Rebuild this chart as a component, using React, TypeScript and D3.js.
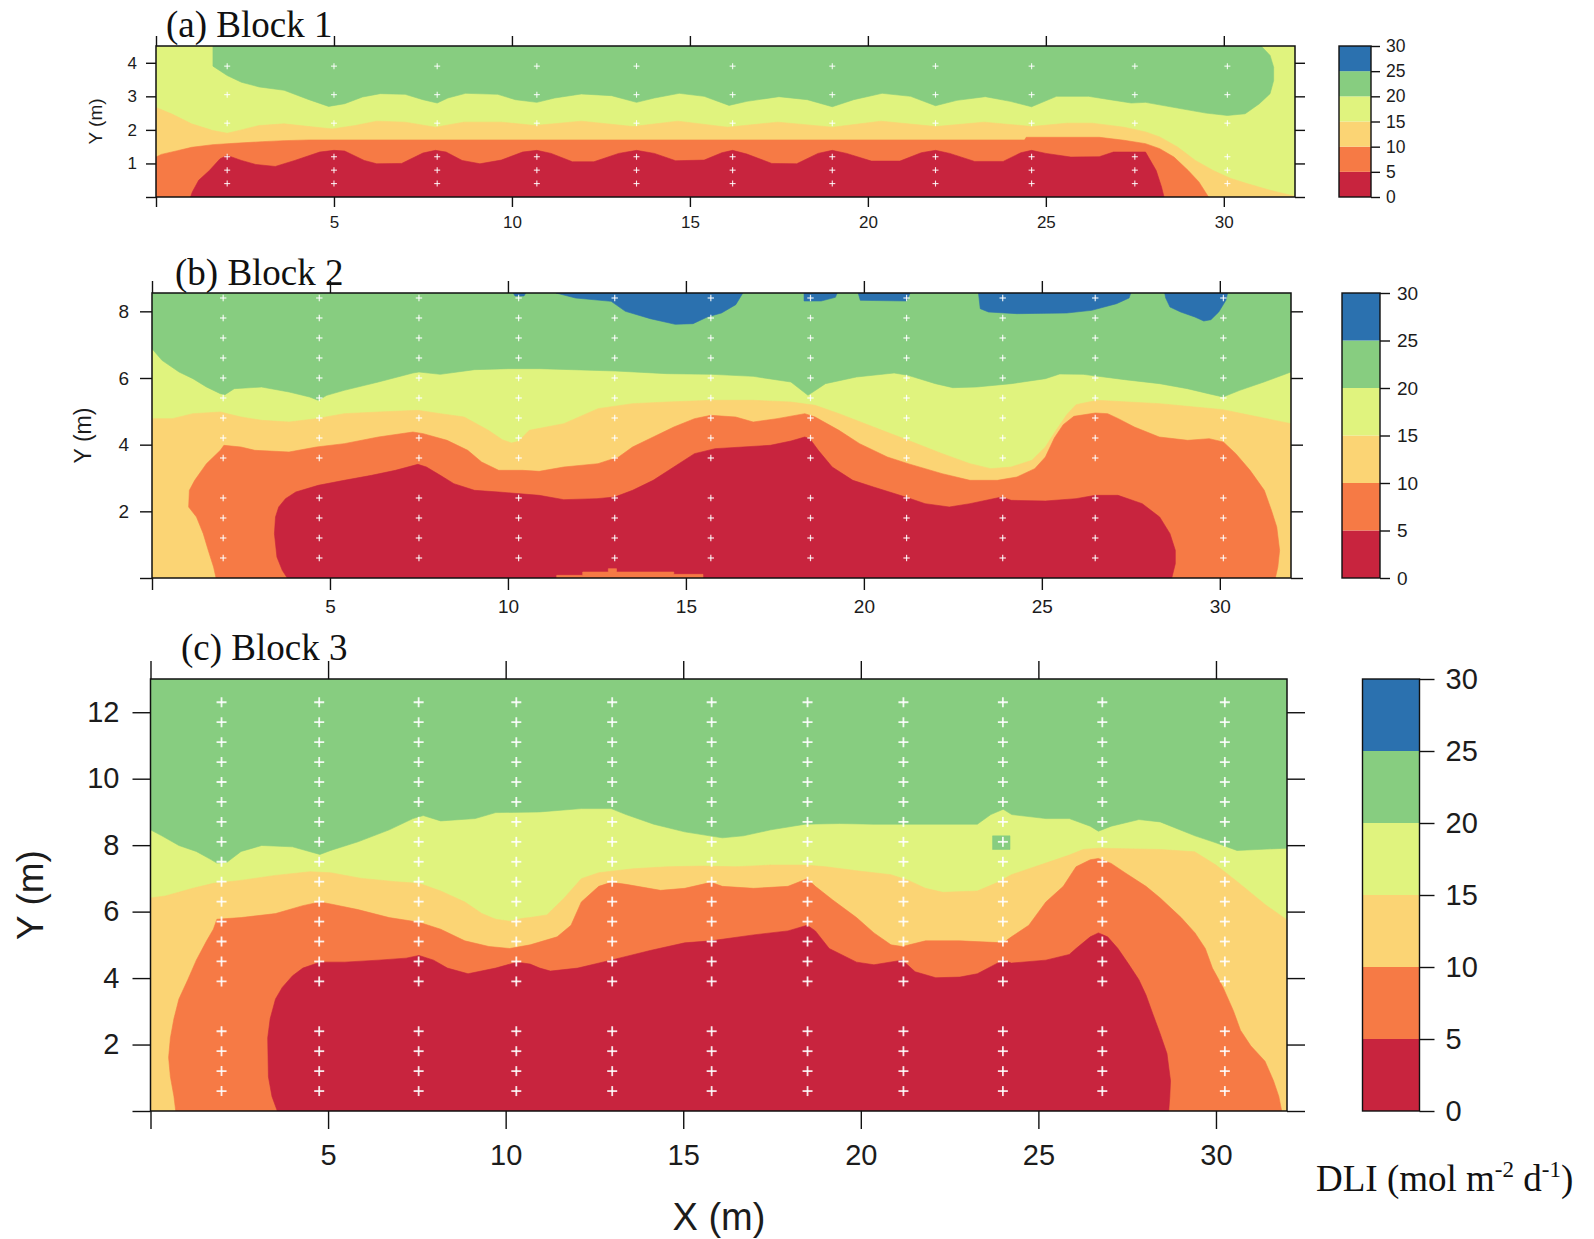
import React, { useEffect, useRef } from "react";
import * as d3 from "d3";

// ---------- shared scales / legend ----------
const BAND_BREAKS = [0, 5, 10, 15, 20, 25, 30];
const BAND_COLORS = ["#C8243E", "#F67A45", "#FBD474", "#E0F37E", "#87CD80", "#2B71AF"];
const X_TICKS = [0, 5, 10, 15, 20, 25, 30];
const X_DOMAIN = [0, 32];

// ---------- Block 1 ----------
const A_Y_TICKS = [0, 1, 2, 3, 4];
const A_SAMPLE_X = [2.0, 5.0, 7.9, 10.7, 13.5, 16.2, 19.0, 21.9, 24.6, 27.5, 30.1];
const A_SAMPLE_Y = [0.4, 0.8, 1.2, 2.2, 3.05, 3.9];
const A_GREEN = [[1.6,4.5],[1.6,3.9],[2.0,3.62],[2.4,3.42],[2.9,3.28],[3.6,3.18],[4.3,2.9],[4.85,2.7],[5.3,2.78],[5.8,2.98],[6.3,3.08],[7.0,3.06],[7.5,2.9],[7.9,2.8],[8.2,2.95],[8.7,3.09],[9.6,3.06],[10.1,2.9],[10.7,2.82],[11.2,2.95],[11.95,3.07],[12.8,3.02],[13.5,2.82],[14.0,2.95],[14.7,3.09],[15.4,3.0],[16.1,2.73],[16.6,2.85],[17.5,2.99],[18.3,2.9],[19.0,2.69],[19.6,2.9],[20.4,3.09],[21.2,3.0],[21.9,2.72],[22.5,2.88],[23.3,2.99],[24.0,2.85],[24.6,2.69],[25.3,3.0],[26.2,3.0],[26.8,2.9],[27.4,2.8],[27.8,2.82],[28.7,2.65],[29.5,2.5],[30.1,2.43],[30.6,2.48],[31.0,2.78],[31.3,3.08],[31.4,3.47],[31.4,3.87],[31.3,4.22],[31.05,4.5]];
const A_LIGHT_ORANGE = [[0,2.67],[0.45,2.47],[1.0,2.18],[1.6,1.98],[2.0,1.9],[2.4,2.0],[2.9,2.13],[3.6,2.18],[4.3,2.1],[4.95,2.03],[5.6,2.13],[6.2,2.26],[7.0,2.23],[7.85,2.08],[8.65,2.23],[9.7,2.23],[10.65,2.13],[11.95,2.26],[13.4,2.1],[14.66,2.26],[16.06,2.08],[17.47,2.23],[19.01,2.08],[20.37,2.26],[21.91,2.1],[23.26,2.23],[24.6,2.1],[25.6,2.2],[26.3,2.2],[27.2,2.08],[27.8,1.94],[28.2,1.79],[28.7,1.49],[29.2,1.09],[29.7,0.79],[30.2,0.55],[30.65,0.4],[31.3,0.2],[32,0.02]];
const A_ORANGE = [[0,1.19],[0.15,1.27],[0.6,1.38],[1.0,1.48],[1.6,1.56],[2.2,1.6],[3.0,1.65],[3.6,1.68],[4.3,1.7],[24.4,1.7],[24.45,1.78],[26.5,1.78],[27.2,1.69],[27.8,1.59],[28.2,1.44],[28.6,1.19],[29.0,0.79],[29.3,0.45],[29.57,0]];
const A_RED = [[0.97,0],[1.02,0.15],[1.2,0.5],[1.5,0.79],[1.8,1.14],[2.0,1.24],[2.4,1.09],[2.8,0.97],[3.35,0.91],[3.9,1.09],[4.6,1.34],[5.0,1.39],[5.3,1.37],[5.85,1.09],[6.2,0.99],[6.9,1.0],[7.5,1.31],[7.85,1.39],[8.15,1.34],[8.6,1.09],[9.1,0.99],[9.7,1.1],[10.3,1.34],[10.7,1.39],[11.1,1.3],[11.7,1.05],[12.3,1.05],[13.0,1.3],[13.5,1.39],[14.0,1.3],[14.6,1.08],[15.4,1.1],[15.9,1.32],[16.2,1.39],[16.6,1.28],[17.3,1.0],[18.0,0.99],[18.6,1.3],[19.0,1.39],[19.4,1.3],[20.1,1.07],[20.9,1.07],[21.5,1.32],[21.9,1.39],[22.3,1.3],[23.0,1.06],[23.8,1.06],[24.3,1.32],[24.6,1.39],[25.0,1.3],[25.7,1.19],[26.5,1.2],[26.9,1.34],[27.8,1.34],[28.1,0.79],[28.25,0.3],[28.32,0]];

// ---------- Block 2 ----------
const B_Y_TICKS = [0, 2, 4, 6, 8];
const B_SAMPLE_X = [2.0, 4.7, 7.5, 10.3, 13.0, 15.7, 18.5, 21.2, 23.9, 26.5, 30.1];
const B_SAMPLE_Y = [0.6, 1.2, 1.8, 2.4, 3.6, 4.2, 4.8, 5.4, 6.0, 6.6, 7.2, 7.8, 8.4];
const B_GREEN = [[0,6.88],[0.28,6.53],[0.76,6.18],[1.15,5.98],[1.53,5.73],[1.92,5.53],[2.05,5.5],[2.31,5.68],[3.08,5.73],[3.85,5.58],[4.43,5.43],[4.67,5.33],[4.91,5.48],[5.4,5.63],[6.36,5.88],[7.33,6.15],[7.5,6.18],[8.1,6.11],[9.06,6.25],[10.03,6.28],[10.88,6.28],[13.02,6.21],[14.47,6.13],[15.73,6.11],[16.89,6.05],[17.95,5.88],[18.43,5.48],[18.92,5.83],[19.79,6.03],[20.85,6.15],[21.24,6.08],[22.01,5.83],[22.5,5.71],[23.17,5.73],[24.14,5.83],[25.1,5.98],[25.5,6.12],[26.16,6.11],[27.33,5.95],[28.31,5.83],[29.09,5.68],[29.68,5.53],[30.09,5.43],[30.56,5.63],[31.24,5.88],[32,6.18]];
const B_BLUE_1 = [[11.35,8.55],[11.9,8.4],[12.9,8.3],[13.3,8.0],[14.0,7.78],[14.7,7.61],[15.2,7.63],[15.6,7.83],[16.0,7.95],[16.4,8.2],[16.6,8.55]];
const B_BLUE_2 = [[18.32,8.55],[18.32,8.31],[18.8,8.31],[19.2,8.42],[19.25,8.55]];
const B_BLUE_3 = [[19.84,8.55],[19.9,8.33],[21.2,8.31],[21.3,8.55]];
const B_BLUE_4 = [[23.22,8.55],[23.27,8.08],[23.5,7.98],[24.3,7.93],[25.7,7.95],[26.4,8.03],[27.1,8.23],[27.45,8.4],[27.5,8.55]];
const B_BLUE_5 = [[28.45,8.55],[28.48,8.4],[28.6,8.13],[28.9,7.98],[29.3,7.83],[29.55,7.71],[29.75,7.75],[29.97,7.98],[30.17,8.33],[30.22,8.55]];
const B_BLUE_6 = [[10.15,8.55],[10.2,8.46],[10.45,8.46],[10.5,8.55]];
const B_LIGHT_ORANGE = [[0,4.78],[0.57,4.78],[1.15,4.93],[1.92,4.98],[2.5,4.83],[3.08,4.73],[3.85,4.68],[4.62,4.78],[5.4,4.93],[6.36,4.98],[7.47,5.03],[8.1,4.93],[8.77,4.83],[9.45,4.43],[9.84,4.15],[10.1,4.05],[10.3,4.1],[10.6,4.43],[11.57,4.63],[12.53,5.08],[13.5,5.23],[14.47,5.28],[15.73,5.33],[16.89,5.33],[17.95,5.28],[18.63,5.18],[19.3,4.93],[20.27,4.53],[21.24,4.13],[22.2,3.73],[22.98,3.43],[23.56,3.28],[24.14,3.33],[24.72,3.53],[25.1,3.93],[25.4,4.43],[25.7,4.9],[25.96,5.2],[26.55,5.33],[28.31,5.23],[29.29,5.13],[30.09,5.05],[30.85,4.88],[32,4.63]];
const B_ORANGE = [[1.8,0],[1.73,0.33],[1.58,0.83],[1.44,1.33],[1.25,1.83],[1.03,2.13],[1.05,2.63],[1.2,2.93],[1.53,3.43],[1.92,3.83],[2.02,3.98],[2.5,3.93],[2.89,3.83],[3.85,3.78],[4.62,3.93],[5.4,4.03],[6.36,4.23],[7.33,4.38],[7.62,4.33],[8.29,4.13],[8.87,3.83],[9.26,3.48],[9.74,3.23],[10.41,3.23],[10.88,3.2],[11.57,3.33],[12.53,3.43],[13.11,3.63],[13.5,3.93],[14.08,4.23],[14.66,4.53],[15.24,4.78],[15.7,4.88],[16.4,4.83],[16.89,4.68],[17.56,4.78],[18.34,4.93],[18.63,4.83],[19.3,4.43],[19.88,4.03],[20.66,3.63],[21.24,3.43],[22.2,3.13],[22.98,2.93],[23.75,2.93],[24.3,3.03],[24.8,3.28],[25.1,3.63],[25.35,4.2],[25.6,4.6],[25.9,4.85],[26.5,4.95],[26.85,4.93],[27.15,4.78],[27.6,4.53],[28.3,4.23],[29.1,4.13],[29.7,4.18],[30.1,4.08],[30.45,3.73],[30.85,3.23],[31.25,2.63],[31.45,2.03],[31.6,1.53],[31.68,0.83],[31.63,0.33],[31.56,0]];
const B_RED = [[3.8,0],[3.66,0.23],[3.51,0.63],[3.44,1.33],[3.47,1.83],[3.56,2.13],[3.75,2.38],[4.04,2.58],[4.67,2.78],[5.4,2.93],[6.17,3.08],[6.84,3.23],[7.47,3.41],[7.71,3.33],[8.1,3.08],[8.48,2.83],[9.06,2.63],[9.74,2.58],[10.88,2.48],[11.57,2.35],[12.5,2.38],[13.0,2.43],[13.5,2.63],[14.08,2.93],[14.66,3.33],[15.24,3.73],[15.82,3.88],[16.6,3.93],[17.37,3.98],[17.95,4.11],[18.34,4.23],[18.48,4.18],[18.72,3.83],[19.11,3.33],[19.69,2.93],[20.27,2.73],[21.17,2.43],[21.72,2.23],[22.4,2.13],[22.98,2.23],[23.87,2.43],[24.14,2.33],[25.1,2.31],[25.96,2.38],[26.5,2.48],[27.14,2.48],[27.82,2.23],[28.31,1.83],[28.6,1.33],[28.75,0.83],[28.75,0.43],[28.65,0]];
const B_ORANGE_SPOT = [[11.37,0],[11.37,0.08],[12.1,0.08],[12.1,0.18],[12.82,0.18],[12.82,0.28],[13.05,0.28],[13.05,0.18],[14.66,0.18],[14.66,0.11],[15.48,0.11],[15.48,0]];

// ---------- Block 3 ----------
const C_Y_TICKS = [0, 2, 4, 6, 8, 10, 12];
const C_SAMPLE_X = [2.0, 4.75, 7.55, 10.3, 13.0, 15.8, 18.5, 21.2, 24.0, 26.8, 30.25];
const C_SAMPLE_Y = [0.6, 1.2, 1.8, 2.4, 3.9, 4.5, 5.1, 5.7, 6.3, 6.9, 7.5, 8.1, 8.7, 9.3, 9.9, 10.5, 11.1, 11.7, 12.3];
const C_GREEN = [[0,8.46],[0.32,8.28],[0.8,7.99],[1.29,7.81],[1.68,7.58],[1.87,7.46],[2.16,7.49],[2.55,7.81],[3.13,7.99],[4.0,7.95],[4.77,7.72],[5.07,7.84],[5.84,8.1],[6.72,8.46],[7.39,8.8],[7.68,8.89],[8.17,8.73],[9.14,8.8],[9.72,8.98],[10.96,9.0],[12.13,9.1],[12.97,9.1],[13.39,8.92],[14.17,8.63],[15.04,8.4],[16.1,8.22],[16.69,8.28],[17.46,8.46],[18.43,8.63],[19.4,8.65],[20.37,8.63],[21.34,8.63],[23.28,8.63],[23.66,8.92],[24.01,9.08],[24.25,8.92],[25.21,8.8],[25.87,8.8],[26.46,8.57],[26.69,8.42],[27.05,8.57],[27.83,8.77],[28.43,8.7],[29.41,8.28],[30.0,8.07],[30.59,7.84],[32,7.91]];
const C_GREEN_SPOT = [[23.71,7.87],[23.71,8.28],[24.2,8.28],[24.2,7.87]];
const C_LIGHT_ORANGE = [[0,6.41],[0.42,6.47],[1.19,6.7],[1.77,6.85],[2.55,6.94],[3.52,7.09],[4.49,7.2],[5.07,7.17],[5.94,7.0],[6.91,6.9],[7.56,6.85],[8.17,6.62],[8.85,6.29],[9.33,5.94],[9.72,5.77],[10.11,5.71],[10.49,5.8],[10.68,5.82],[11.16,5.9],[11.65,6.41],[12.13,6.99],[12.62,7.17],[13.59,7.29],[14.55,7.35],[15.52,7.37],[16.49,7.35],[17.46,7.4],[18.43,7.4],[19.01,7.35],[19.88,7.23],[20.85,7.11],[21.34,6.94],[21.82,6.7],[22.31,6.58],[23.28,6.62],[23.86,6.88],[24.24,7.11],[25.21,7.46],[25.87,7.7],[26.26,7.87],[26.69,7.91],[28.43,7.87],[29.4,7.8],[30.0,7.4],[30.6,6.9],[31.4,6.2],[32,5.75]];
const C_ORANGE = [[0.71,0],[0.66,0.44],[0.56,1.03],[0.51,1.61],[0.56,2.2],[0.66,2.78],[0.8,3.37],[1.05,3.95],[1.29,4.54],[1.58,5.12],[1.77,5.47],[1.87,5.77],[2.55,5.82],[3.52,5.94],[4.29,6.18],[4.77,6.29],[5.07,6.23],[5.84,6.06],[6.72,5.82],[7.56,5.68],[8.17,5.47],[8.85,5.12],[9.53,4.95],[10.11,4.89],[10.69,5.0],[11.45,5.24],[11.84,5.59],[12.13,6.29],[12.62,6.76],[12.97,6.88],[13.39,6.82],[14.36,6.64],[15.04,6.7],[15.78,6.88],[16.1,6.76],[16.98,6.7],[17.95,6.76],[18.49,6.99],[18.72,6.76],[19.21,6.35],[19.88,5.82],[20.37,5.36],[20.85,5.0],[21.17,4.95],[21.82,5.12],[22.79,5.12],[24.01,5.06],[24.24,5.24],[24.73,5.59],[25.21,6.29],[25.7,6.76],[26.06,7.35],[26.46,7.56],[26.69,7.6],[27.05,7.45],[27.44,7.17],[28.03,6.76],[28.43,6.41],[29.02,5.82],[29.41,5.36],[29.7,4.89],[29.9,4.3],[30.2,3.72],[30.49,3.02],[30.69,2.43],[30.98,1.96],[31.38,1.5],[31.62,0.91],[31.77,0.44],[31.85,0]];
const C_RED = [[3.57,0],[3.42,0.44],[3.32,1.03],[3.3,2.2],[3.37,2.78],[3.52,3.37],[3.71,3.72],[4.0,4.07],[4.29,4.3],[4.77,4.48],[5.46,4.48],[6.42,4.54],[7.2,4.6],[7.56,4.68],[7.97,4.54],[8.36,4.3],[8.94,4.13],[9.72,4.3],[10.32,4.48],[10.69,4.42],[10.96,4.3],[11.26,4.21],[12.03,4.3],[12.97,4.54],[14.07,4.83],[15.04,5.06],[15.78,5.12],[16.98,5.3],[17.95,5.42],[18.49,5.59],[18.72,5.42],[19.11,4.89],[19.88,4.48],[20.37,4.4],[21.17,4.54],[21.53,4.19],[22.11,4.01],[22.79,4.03],[23.28,4.13],[24.01,4.54],[24.24,4.45],[25.21,4.54],[25.87,4.71],[26.06,4.89],[26.46,5.24],[26.69,5.36],[26.95,5.24],[27.24,4.89],[27.54,4.42],[27.83,3.95],[28.03,3.49],[28.23,2.9],[28.43,2.32],[28.62,1.73],[28.72,0.91],[28.7,0.44],[28.67,0]];

const SANS = "'Liberation Sans', Arial, Helvetica, sans-serif";
const SERIF = "'Liberation Serif', 'Times New Roman', Times, serif";

type Pt = number[];
type Layer = { band: number; pts: Pt[]; close: "top" | "bottom" | "none" };

function Axis({ scale, orient, ticks, size, padding, fontSize, labels, transform }: any) {
  const ref = useRef<SVGGElement>(null);
  useEffect(() => {
    const gen =
      orient === "bottom" ? d3.axisBottom(scale) :
      orient === "top" ? d3.axisTop(scale) :
      orient === "left" ? d3.axisLeft(scale) : d3.axisRight(scale);
    gen.tickValues(ticks).tickSize(size).tickPadding(padding).tickSizeOuter(0)
      .tickFormat((d: any) => (labels === "all" ? String(d) : labels === "nozero" && d !== 0 ? String(d) : ""));
    const g = d3.select(ref.current as SVGGElement);
    g.call(gen as any);
    g.attr("font-size", null).attr("font-family", null);
    g.select(".domain").remove();
    g.selectAll(".tick line").attr("stroke", "#111").attr("stroke-width", 1.4);
    g.selectAll(".tick text").attr("fill", "#1c1c1c").style("font-family", SANS).style("font-size", fontSize + "px");
  });
  return <g ref={ref} transform={transform} />;
}

function Panel(p: any) {
  const x = d3.scaleLinear().domain(X_DOMAIN).range([p.left, p.right]);
  const y = d3.scaleLinear().domain([0, p.ymax]).range([p.bottom, p.top]);
  const line = d3.line<Pt>().x((d) => x(d[0])).y((d) => y(d[1])).curve(d3.curveLinearClosed);
  const closed = (l: Layer) => {
    const pts = l.pts.slice();
    const f = pts[0], t = pts[pts.length - 1];
    if (l.close === "top") { pts.push([t[0], p.ymax], [f[0], p.ymax]); }
    if (l.close === "bottom") { pts.push([t[0], 0], [f[0], 0]); }
    return line(pts) as string;
  };
  const cb = d3.scaleLinear().domain([0, 30]).range([p.bottom, p.top]);
  const clipId = "clip-" + p.id;
  const samples: Pt[] = [];
  p.sx.forEach((sx: number) => p.sy.forEach((sy: number) => samples.push([sx, sy])));
  const h = p.plus;
  return (
    <g>
      <defs>
        <clipPath id={clipId}>
          <rect x={p.left} y={p.top} width={p.right - p.left} height={p.bottom - p.top} />
        </clipPath>
      </defs>
      <g clipPath={`url(#${clipId})`}>
        <rect x={p.left} y={p.top} width={p.right - p.left} height={p.bottom - p.top} fill={BAND_COLORS[3]} />
        {p.layers.map((l: Layer, i: number) => (
          <path key={i} d={closed(l)} fill={BAND_COLORS[l.band]} stroke={BAND_COLORS[l.band]} strokeWidth={0.6} />
        ))}
        {samples.map((s, i) => (
          <g key={i} stroke="#ffffff" strokeOpacity={0.88} strokeWidth={p.plusW}>
            <line x1={x(s[0]) - h} x2={x(s[0]) + h} y1={y(s[1])} y2={y(s[1])} />
            <line x1={x(s[0])} x2={x(s[0])} y1={y(s[1]) - h} y2={y(s[1]) + h} />
          </g>
        ))}
      </g>
      <rect x={p.left} y={p.top} width={p.right - p.left} height={p.bottom - p.top} fill="none" stroke="#111" strokeWidth={1.5} />
      <Axis scale={x} orient="bottom" ticks={X_TICKS} size={p.tick} padding={p.xpad} fontSize={p.font} labels="nozero" transform={`translate(0,${p.bottom})`} />
      <Axis scale={x} orient="top" ticks={X_TICKS} size={p.tick} padding={3} fontSize={p.font} labels="none" transform={`translate(0,${p.top})`} />
      <Axis scale={y} orient="left" ticks={p.yticks} size={p.tick} padding={p.ypad} fontSize={p.font} labels="nozero" transform={`translate(${p.left},0)`} />
      <Axis scale={y} orient="right" ticks={p.yticks} size={p.tick} padding={3} fontSize={p.font} labels="none" transform={`translate(${p.right},0)`} />
      {BAND_COLORS.map((c, i) => (
        <rect key={i} x={p.cbx} width={p.cbw} y={cb(BAND_BREAKS[i + 1])} height={cb(BAND_BREAKS[i]) - cb(BAND_BREAKS[i + 1])} fill={c} />
      ))}
      <rect x={p.cbx} width={p.cbw} y={p.top} height={p.bottom - p.top} fill="none" stroke="#111" strokeWidth={1.4} />
      <Axis scale={cb} orient="right" ticks={BAND_BREAKS} size={p.cbtick} padding={p.cbpad} fontSize={p.cbfont} labels="all" transform={`translate(${p.cbx + p.cbw},0)`} />
      <text x={p.titleX} y={p.titleY} fontFamily={SERIF} fontSize={p.titleSize} fill="#111">{p.title}</text>
      <text transform={`translate(${p.ylabX},${(p.top + p.bottom) / 2}) rotate(-90)`} textAnchor="middle" dominantBaseline="central" fontFamily={SANS} fontSize={p.ylabSize} fill="#1c1c1c">Y (m)</text>
    </g>
  );
}

export default function App() {
  const panels = [
    {
      id: "a", title: "(a) Block 1", left: 156, right: 1295, top: 46, bottom: 197, ymax: 4.5,
      yticks: A_Y_TICKS, sx: A_SAMPLE_X, sy: A_SAMPLE_Y, plus: 3, plusW: 1.1,
      tick: 10, xpad: 9, ypad: 9, font: 17,
      cbx: 1339, cbw: 32, cbtick: 9, cbpad: 6, cbfont: 17.5,
      titleX: 166, titleY: 37, titleSize: 37, ylabX: 95, ylabSize: 19,
      layers: [
        { band: 4, pts: A_GREEN, close: "top" },
        { band: 2, pts: A_LIGHT_ORANGE, close: "bottom" },
        { band: 1, pts: A_ORANGE, close: "bottom" },
        { band: 0, pts: A_RED, close: "bottom" },
      ],
    },
    {
      id: "b", title: "(b) Block 2", left: 152, right: 1291, top: 293, bottom: 578, ymax: 8.55,
      yticks: B_Y_TICKS, sx: B_SAMPLE_X, sy: B_SAMPLE_Y, plus: 3.2, plusW: 1.2,
      tick: 12, xpad: 10, ypad: 11, font: 19,
      cbx: 1342, cbw: 38, cbtick: 10, cbpad: 7, cbfont: 19,
      titleX: 175, titleY: 285, titleSize: 37, ylabX: 83, ylabSize: 23,
      layers: [
        { band: 4, pts: B_GREEN, close: "top" },
        { band: 5, pts: B_BLUE_1, close: "top" },
        { band: 5, pts: B_BLUE_2, close: "top" },
        { band: 5, pts: B_BLUE_3, close: "top" },
        { band: 5, pts: B_BLUE_4, close: "top" },
        { band: 5, pts: B_BLUE_5, close: "top" },
        { band: 5, pts: B_BLUE_6, close: "top" },
        { band: 2, pts: B_LIGHT_ORANGE, close: "bottom" },
        { band: 1, pts: B_ORANGE, close: "bottom" },
        { band: 0, pts: B_RED, close: "bottom" },
        { band: 1, pts: B_ORANGE_SPOT, close: "bottom" },
      ],
    },
    {
      id: "c", title: "(c) Block 3", left: 150.5, right: 1287, top: 679, bottom: 1111, ymax: 13,
      yticks: C_Y_TICKS, sx: C_SAMPLE_X, sy: C_SAMPLE_Y, plus: 5, plusW: 1.8,
      tick: 18, xpad: 15, ypad: 13, font: 29,
      cbx: 1362.5, cbw: 57, cbtick: 15, cbpad: 11, cbfont: 29,
      titleX: 181, titleY: 660, titleSize: 37, ylabX: 30, ylabSize: 37,
      layers: [
        { band: 4, pts: C_GREEN, close: "top" },
        { band: 2, pts: C_LIGHT_ORANGE, close: "bottom" },
        { band: 1, pts: C_ORANGE, close: "bottom" },
        { band: 0, pts: C_RED, close: "bottom" },
        { band: 4, pts: C_GREEN_SPOT, close: "none" },
      ],
    },
  ];
  return (
    <svg width={1594} height={1239} style={{ position: "absolute", left: 0, top: 0, background: "#fff" }}>
      <rect x={0} y={0} width={1594} height={1239} fill="#fff" />
      {panels.map((p) => <Panel key={p.id} {...p} />)}
      <text x={719} y={1230} textAnchor="middle" fontFamily={SANS} fontSize={38} fill="#1c1c1c">X (m)</text>
      <text x={1316} y={1191} fontFamily={SERIF} fontSize={37} fill="#111">
        DLI (mol m<tspan dy={-14} fontSize={23}>-2</tspan><tspan dy={14}> d</tspan><tspan dy={-14} fontSize={23}>-1</tspan><tspan dy={14}>)</tspan>
      </text>
    </svg>
  );
}
